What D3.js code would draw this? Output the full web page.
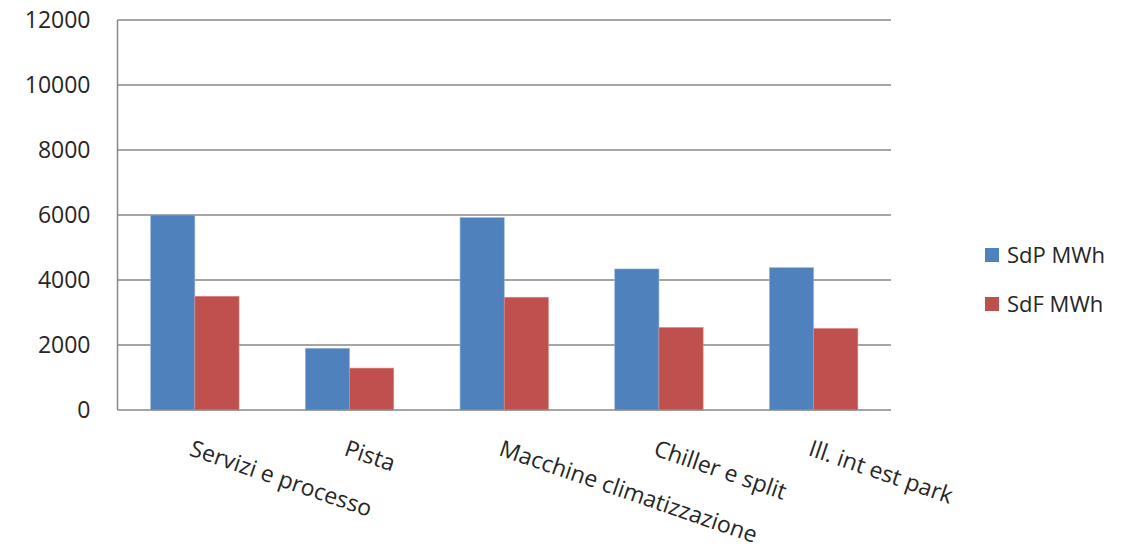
<!DOCTYPE html>
<html><head><meta charset="utf-8">
<script src="https://cdn.jsdelivr.net/npm/d3@7"></script>
<style>body{margin:0;background:#fff}svg{display:block}text{font-family:"Open Sans",sans-serif;fill:#262626}</style>
</head><body><svg id="c" width="1144" height="546"></svg>
<script>
const categories = ["Servizi e processo","Pista","Macchine climatizzazione","Chiller e split","Ill. int est park"];
const seriesNames = ["SdP MWh","SdF MWh"];
const sdp = [6000,1900,5920,4340,4380];
const sdf = [3500,1290,3470,2540,2510];
const yTicks = [0,2000,4000,6000,8000,10000,12000];
const colors = ["#4F81BD","#C0504D"];

const svg = d3.select("#c");
const m = {left:117.5, right:891, top:20, bottom:410};
const x = d3.scaleBand().domain(categories).range([m.left,m.right]).padding(0);
const y = d3.scaleLinear().domain([0,12000]).range([m.bottom,m.top]);
const groupW = x.bandwidth()/1.75;
const x1 = d3.scaleBand().domain(seriesNames).range([0,groupW]);

// gridlines
svg.append("g").selectAll("line").data(yTicks.filter(d=>d>0)).join("line")
  .attr("x1",m.left).attr("x2",m.right).attr("y1",d=>y(d)).attr("y2",d=>y(d))
  .attr("stroke","#878787").attr("stroke-width",1.5);

// y tick labels
const yAxis = d3.axisLeft(y).tickValues(yTicks).tickSize(0).tickPadding(27).tickFormat(d3.format("d"));
const ya = svg.append("g").attr("transform",`translate(${m.left},0)`).call(yAxis);
ya.select(".domain").remove();
ya.selectAll("text").attr("font-size",23).attr("font-family","Open Sans").attr("fill","#262626");

// bars
const data = categories.map((c,i)=>({c, vals:[sdp[i],sdf[i]]}));
const g = svg.append("g").selectAll("g").data(data).join("g")
  .attr("transform",d=>`translate(${x(d.c)+(x.bandwidth()-groupW)/2},0)`);
g.selectAll("rect").data(d=>d.vals.map((v,j)=>({v,s:seriesNames[j],j}))).join("rect")
  .attr("x",d=>x1(d.s)).attr("width",x1.bandwidth())
  .attr("y",d=>y(d.v)).attr("height",d=>y(0)-y(d.v))
  .attr("fill",d=>colors[d.j])
  .attr("stroke",d=>d.j===0?"#9db5d8":"#d98c8a").attr("stroke-width",0.6);

// axes lines
svg.append("line").attr("x1",m.left).attr("x2",m.left).attr("y1",m.top).attr("y2",m.bottom)
  .attr("stroke","#878787").attr("stroke-width",1.5);
svg.append("line").attr("x1",m.left).attr("x2",m.right).attr("y1",m.bottom).attr("y2",m.bottom)
  .attr("stroke","#878787").attr("stroke-width",1.5);

// x labels rotated
svg.append("g").selectAll("text").data(categories).join("text")
  .attr("transform",d=>`translate(${x(d)+x.bandwidth()/2},${436}) rotate(19)`)
  .attr("dominant-baseline","hanging").attr("font-size",23)
  .text(d=>d);

// legend
const lg = svg.append("g").selectAll("g").data(seriesNames).join("g")
  .attr("transform",(d,i)=>`translate(985,${248+i*49})`);
lg.append("rect").attr("width",14).attr("height",14).attr("fill",(d,i)=>colors[i]);
lg.append("text").attr("x",22).attr("y",15).attr("font-size",22).text(d=>d);
</script></body></html>
